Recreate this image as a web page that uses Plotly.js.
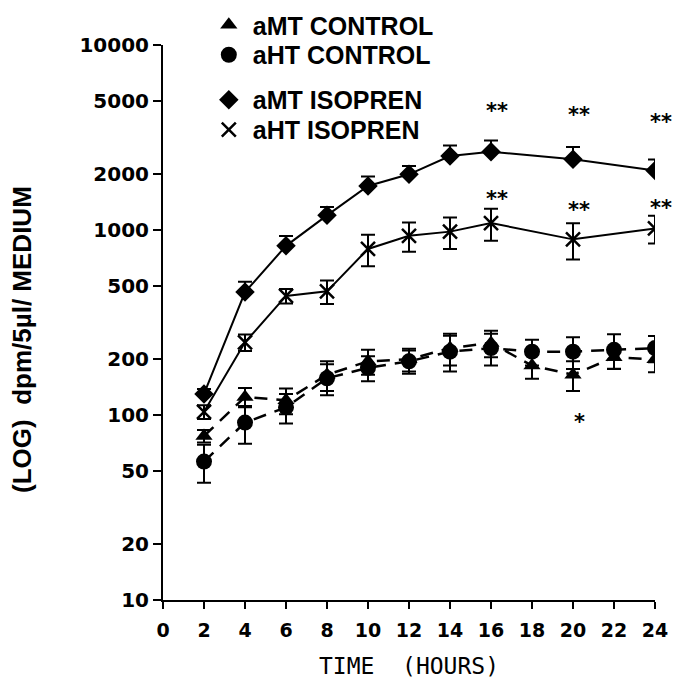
<!DOCTYPE html>
<html>
<head>
<meta charset="utf-8">
<script src="https://cdn.plot.ly/plotly-3.0.1.min.js"></script>
<style>html,body{margin:0;padding:0;background:#fff;}#chart{width:680px;height:684px;}</style>
</head>
<body>
<div id="chart"></div>
<script>
// ---- data ----
const hours = [2, 4, 6, 8, 10, 12, 14, 16, 18, 20, 22, 24];

const seriesNames = ["aMT CONTROL", "aHT CONTROL", "aMT ISOPREN", "aHT ISOPREN"];

// aMT CONTROL (triangles, dashed)
const amtControl    = [77, 125, 120, 165, 195, 200, 230, 245, 185, 165, 205, 200];
const amtControlErr = [6, 15, 19, 30, 30, 28, 45, 40, 28, 30, 27, 30];

// aHT CONTROL (circles, dashed)
const ahtControl    = [56, 91, 110, 158, 180, 195, 220, 230, 220, 220, 225, 230];
const ahtControlErr = [13, 21, 20, 30, 28, 28, 48, 45, 35, 43, 48, 37];

// aMT ISOPREN (diamonds, solid)
const isoHoursMT  = [2, 4, 6, 8, 10, 12, 14, 16, 20, 24];
const amtIso      = [130, 462, 821, 1200, 1730, 2000, 2510, 2650, 2410, 2100];
const amtIsoErrUp = [8, 63, 108, 131, 214, 218, 357, 400, 400, 307];

// aHT ISOPREN (x, solid)
const isoHoursHT = [2, 4, 6, 8, 10, 12, 14, 16, 20, 24];
const ahtIso     = [104, 247, 440, 466, 790, 930, 980, 1090, 890, 1020];
const ahtIsoErr  = [9, 25, 40, 68, 153, 167, 190, 214, 198, 175];

// significance marks
const sigX    = [16, 20, 24, 16, 20, 24, 20];
const sigY    = [4400, 4200, 3850, 1480, 1290, 1310, 92];
const sigText = ["**", "**", "**", "**", "**", "**", "*"];

// axis ticks
const xTicks = [0, 2, 4, 6, 8, 10, 12, 14, 16, 18, 20, 22, 24];
const yTicks = [10, 20, 50, 100, 200, 500, 1000, 2000, 5000, 10000];
const yTickText = yTicks.map(String);

// ---- styling ----
const black = "#000";
const dashCtl = "13px,9px";
const errStyle = {color: black, thickness: 2, width: 7};

function zeros(n){ return new Array(n).fill(0); }

const traces = [
  // lines (no legend)
  {x: hours, y: amtControl, mode: "lines", line: {color: black, width: 2.5, dash: dashCtl}, showlegend: false, hoverinfo: "skip"},
  {x: hours, y: ahtControl, mode: "lines", line: {color: black, width: 2.5, dash: dashCtl}, showlegend: false, hoverinfo: "skip"},
  {x: isoHoursMT, y: amtIso, mode: "lines", line: {color: black, width: 2}, showlegend: false, hoverinfo: "skip"},
  {x: isoHoursHT, y: ahtIso, mode: "lines", line: {color: black, width: 2}, showlegend: false, hoverinfo: "skip"},
  // markers with error bars (each in its own legend row)
  {x: hours, y: amtControl, name: seriesNames[0], mode: "markers", legend: "legend",
   marker: {symbol: "triangle-up", size: 15, color: black},
   error_y: Object.assign({type: "data", array: amtControlErr, visible: true}, errStyle)},
  {x: hours, y: ahtControl, name: seriesNames[1], mode: "markers", legend: "legend2",
   marker: {symbol: "circle", size: 16, color: black},
   error_y: Object.assign({type: "data", array: ahtControlErr, visible: true}, errStyle)},
  {x: isoHoursMT, y: amtIso, name: seriesNames[2], mode: "markers", legend: "legend3",
   marker: {symbol: "diamond", size: 15, color: black},
   error_y: Object.assign({type: "data", symmetric: false, array: amtIsoErrUp, arrayminus: zeros(amtIsoErrUp.length), visible: true}, errStyle)},
  {x: isoHoursHT, y: ahtIso, name: seriesNames[3], mode: "markers", legend: "legend4",
   marker: {symbol: "x-thin", size: 14, color: black, line: {color: black, width: 2.5}},
   error_y: Object.assign({type: "data", array: ahtIsoErr, visible: true}, errStyle)}
];

const annotations = sigX.map((x, i) => ({
  x: x, y: Math.log10(sigY[i]), xref: "x", yref: "y", text: sigText[i],
  showarrow: false, xshift: 6, font: {family: "DejaVu Sans", size: 21, color: black, weight: "bold"}
}));
annotations.push({
  text: "(LOG)  dpm/5\u00b5l/ MEDIUM", xref: "paper", yref: "paper",
  x: -0.287, y: 0.47, xanchor: "center", yanchor: "middle", textangle: -90, showarrow: false,
  font: {family: "Liberation Sans", size: 26, color: black, weight: "bold"}
});

const legendFont = {family: "Liberation Sans", size: 25, color: black, weight: "bold"};
function legendRow(y){
  return {x: 0.085, y: y, xanchor: "left", yanchor: "middle", bgcolor: "rgba(0,0,0,0)",
          font: legendFont, itemwidth: 38};
}

const layout = {
  width: 680, height: 684,
  margin: {l: 163, r: 25, t: 45, b: 84, autoexpand: false},
  paper_bgcolor: "#fff", plot_bgcolor: "#fff",
  showlegend: true,
  xaxis: {
    range: [0, 24], tickvals: xTicks, ticktext: xTicks.map(String),
    ticks: "outside", ticklen: 7, tickwidth: 2, tickcolor: black, ticklabelstandoff: 5,
    showline: true, linewidth: 2, linecolor: black, showgrid: false, zeroline: false,
    tickfont: {family: "DejaVu Sans", size: 19, color: black, weight: "bold"},
    title: {text: "TIME  (HOURS)", font: {family: "DejaVu Sans Mono", size: 23, color: black}, standoff: 18}
  },
  yaxis: {
    type: "log", range: [1, 4], tickvals: yTicks, ticktext: yTickText,
    ticks: "outside", ticklen: 8, tickwidth: 2, tickcolor: black,
    showline: true, linewidth: 2, linecolor: black, showgrid: false, zeroline: false,
    tickfont: {family: "DejaVu Sans", size: 20, color: black, weight: "bold"}
  },
  legend: legendRow(1.036),
  legend2: legendRow(0.982),
  legend3: legendRow(0.901),
  legend4: legendRow(0.847),
  annotations: annotations
};

Plotly.newPlot("chart", traces, layout, {staticPlot: true, displayModeBar: false});
</script>
</body>
</html>
